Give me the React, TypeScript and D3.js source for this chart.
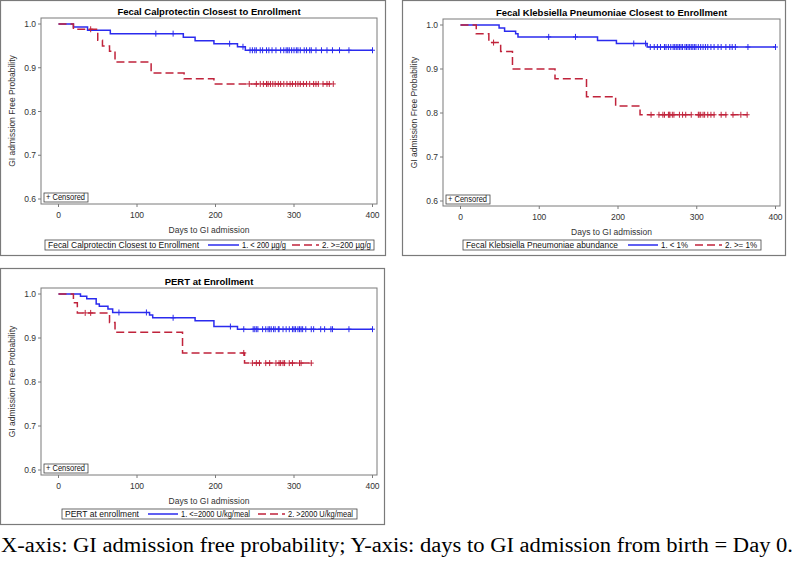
import * as d3 from "d3";

// axis ticks shared by all three panels
const xTicks = [0, 100, 200, 300, 400];
const yTicks = [0.6, 0.7, 0.8, 0.9, 1.0];

// panel 1: fecal calprotectin
const calproTitle = "Fecal Calprotectin Closest to Enrollment";
const calproLegendTitle = "Fecal Calprotectin Closest to Enrollment";
const calproGroups = ["1. < 200 µg/g", "2. >=200 µg/g"];
const calproLowTimes = [19, 37, 66, 159, 174, 198, 228, 238];
const calproLowSurv = [0.993, 0.986, 0.978, 0.97, 0.962, 0.955, 0.948, 0.94];
const calproLowCens = [124, 146, 218, 235, 244, 247, 250, 252, 257, 260, 265, 268, 272, 277, 283, 287, 290, 292, 294, 297, 300, 303, 305, 308, 313, 316, 320, 322, 328, 335, 342, 349, 358, 370, 400];
const calproHighTimes = [19, 50, 56, 65, 72, 118, 160, 198];
const calproHighSurv = [0.988, 0.963, 0.95, 0.938, 0.913, 0.888, 0.875, 0.863];
const calproHighCens = [41, 243, 252, 257, 261, 265, 267, 270, 273, 276, 280, 283, 287, 291, 295, 298, 302, 305, 308, 312, 316, 320, 325, 328, 331, 337, 342, 345, 350];

// panel 2: klebsiella pneumoniae
const klebTitle = "Fecal Klebsiella Pneumoniae Closest to Enrollment";
const klebLegendTitle = "Fecal Klebsiella Pneumoniae abundance";
const klebGroups = ["1. <  1%", "2. >= 1%"];
const klebLowTimes = [49, 56, 70, 73, 174, 198, 237];
const klebLowSurv = [0.993, 0.986, 0.98, 0.973, 0.965, 0.958, 0.95];
const klebLowCens = [112, 146, 220, 235, 241, 246, 250, 254, 259, 261, 264, 267, 270, 272, 274, 276, 278, 280, 282, 285, 287, 289, 291, 293, 295, 297, 299, 302, 305, 308, 311, 314, 318, 322, 327, 331, 337, 342, 345, 349, 365, 400];
const klebHighTimes = [20, 36, 51, 66, 120, 160, 197, 228];
const klebHighSurv = [0.98, 0.96, 0.94, 0.9, 0.878, 0.837, 0.816, 0.796];
const klebHighCens = [42, 242, 252, 257, 259, 264, 265, 266, 269, 271, 278, 282, 286, 293, 302, 303, 305, 308, 310, 314, 318, 322, 331, 337, 346, 356, 364];

// panel 3: PERT
const pertTitle = "PERT at Enrollment";
const pertLegendTitle = "PERT at enrollment";
const pertGroups = ["1. <=2000 U/kg/meal", "2. >2000 U/kg/meal"];
const pertLowTimes = [28, 36, 48, 52, 63, 69, 116, 120, 174, 198, 228];
const pertLowSurv = [0.995, 0.989, 0.977, 0.972, 0.966, 0.958, 0.952, 0.946, 0.939, 0.926, 0.92];
const pertLowCens = [77, 112, 146, 219, 236, 248, 250, 252, 254, 260, 264, 267, 269, 271, 274, 276, 280, 281, 286, 290, 294, 298, 300, 302, 305, 307, 309, 311, 315, 322, 325, 334, 339, 347, 349, 370, 400];
const pertHighTimes = [19, 24, 65, 72, 158, 237];
const pertHighSurv = [0.98, 0.957, 0.935, 0.913, 0.866, 0.843];
const pertHighCens = [34, 41, 236, 247, 252, 256, 264, 269, 277, 281, 283, 286, 288, 294, 298, 307, 309, 322];

const caption = "X-axis: GI admission free probability; Y-axis: days to GI admission from birth = Day 0.";

const BLUE = "#2b2bee";
const RED = "#c0233b";
const FRAME = "#7a7a7a";
const SANS = "'Liberation Sans', Arial, sans-serif";

type Curve = { times: number[]; surv: number[]; cens: number[] };

function survAt(c: Curve, t: number) {
  let s = 1;
  c.times.forEach((ti, i) => {
    if (ti <= t) s = c.surv[i];
  });
  return s;
}

function KmPanel({ layout, title, legendTitle, groups, curves }: any) {
  const { outer, frame, lg } = layout;
  const x = d3.scaleLinear().domain([0, 400]).range([frame.x0 + 17.5, frame.x1 - 4.5]);
  const y = d3.scaleLinear().domain([0.6, 1.0]).range([frame.y1 - 5, frame.y0 + 6]);
  const line = d3
    .line<[number, number]>()
    .x((d) => x(d[0]))
    .y((d) => y(d[1]))
    .curve(d3.curveStepAfter);
  const cx = (frame.x0 + frame.x1) / 2;
  const cy = (frame.y0 + frame.y1) / 2;
  const colors = [BLUE, RED];
  const dashes = [undefined, "8,4"];

  return (
    <g fontFamily={SANS}>
      <rect x={outer.x} y={outer.y} width={outer.w} height={outer.h} fill="white" stroke={FRAME} strokeWidth={1.2} />
      <text x={cx} y={frame.y0 - 3} textAnchor="middle" fontSize={9.5} fontWeight="bold" fill="#000">
        {title}
      </text>
      <rect x={frame.x0} y={frame.y0} width={frame.x1 - frame.x0} height={frame.y1 - frame.y0} fill="none" stroke={FRAME} strokeWidth={1} />
      {yTicks.map((t) => (
        <g key={"y" + t}>
          <line x1={frame.x0 - 3} x2={frame.x0} y1={y(t)} y2={y(t)} stroke={FRAME} />
          <text x={frame.x0 - 5} y={y(t) + 3} textAnchor="end" fontSize={8.5} fill="#333">
            {d3.format(".1f")(t)}
          </text>
        </g>
      ))}
      {xTicks.map((t) => (
        <g key={"x" + t}>
          <line x1={x(t)} x2={x(t)} y1={frame.y1} y2={frame.y1 + 3} stroke={FRAME} />
          <text x={x(t)} y={frame.y1 + 14} textAnchor="middle" fontSize={8.5} fill="#333">
            {t}
          </text>
        </g>
      ))}
      <text x={cx} y={frame.y1 + 28.5} textAnchor="middle" fontSize={8.5} fill="#333">
        Days to GI admission
      </text>
      <text transform={`translate(${outer.x + 14},${cy}) rotate(-90)`} textAnchor="middle" fontSize={8.5} fill="#333">
        GI admission Free Probability
      </text>
      {curves.map((c: Curve, i: number) => {
        const end = Math.max(c.times[c.times.length - 1], ...c.cens);
        const pts: [number, number][] = [[0, 1], ...c.times.map((t, j) => [t, c.surv[j]] as [number, number]), [end, c.surv[c.surv.length - 1]]];
        return (
          <g key={"c" + i}>
            <path d={line(pts) || ""} fill="none" stroke={colors[i]} strokeWidth={1.5} strokeDasharray={dashes[i]} />
            {c.cens.map((t, j) => {
              const px = x(t);
              const py = y(survAt(c, t));
              return <path key={j} d={`M${px},${py - 3}V${py + 3}M${px - 2.5},${py}H${px + 2.5}`} stroke={colors[i]} strokeWidth={1} />;
            })}
          </g>
        );
      })}
      <rect x={frame.x0 + 3} y={frame.y1 - 11} width={44} height={9} fill="white" stroke="#444" strokeWidth={0.8} />
      <text x={frame.x0 + 5} y={frame.y1 - 3.6} fontSize={8.2} fill="#111" textLength={39} lengthAdjust="spacingAndGlyphs">
        + Censored
      </text>
      <rect x={lg.x0} y={lg.y} width={lg.x1 - lg.x0} height={10} fill="white" stroke="#444" strokeWidth={0.8} />
      <text x={lg.x0 + 3} y={lg.y + 8} fontSize={8.2} fill="#111" textLength={lg.titleW} lengthAdjust="spacingAndGlyphs">
        {legendTitle}
      </text>
      {groups.map((g: string, i: number) => (
        <g key={"l" + i}>
          <line x1={lg.items[i][0]} x2={lg.items[i][1]} y1={lg.y + 5} y2={lg.y + 5} stroke={colors[i]} strokeWidth={1.5} strokeDasharray={dashes[i]} />
          <text x={lg.items[i][1] + 3} y={lg.y + 8} fontSize={8.2} fill="#111" textLength={lg.items[i][2]} lengthAdjust="spacingAndGlyphs">
            {g}
          </text>
        </g>
      ))}
    </g>
  );
}

const layouts = [
  {
    outer: { x: 0.5, y: 0.5, w: 385, h: 255 },
    frame: { x0: 41, y0: 18, x1: 377, y1: 204 },
    lg: { x0: 45, x1: 374, y: 240, titleW: 151, items: [[208, 239, 44], [292, 319, 49]] },
  },
  {
    outer: { x: 402.5, y: 0.5, w: 383, h: 255 },
    frame: { x0: 443, y0: 19, x1: 780, y1: 206 },
    lg: { x0: 463, x1: 761, y: 240, titleW: 152, items: [[628, 658, 27], [695, 722, 32]] },
  },
  {
    outer: { x: 0.5, y: 268.5, w: 384, h: 256 },
    frame: { x0: 41, y0: 288, x1: 377, y1: 475 },
    lg: { x0: 62, x1: 357, y: 509, titleW: 74, items: [[148, 178, 69], [258, 285, 65]] },
  },
];

export default function App() {
  const panels = [
    {
      title: calproTitle,
      legendTitle: calproLegendTitle,
      groups: calproGroups,
      curves: [
        { times: calproLowTimes, surv: calproLowSurv, cens: calproLowCens },
        { times: calproHighTimes, surv: calproHighSurv, cens: calproHighCens },
      ],
    },
    {
      title: klebTitle,
      legendTitle: klebLegendTitle,
      groups: klebGroups,
      curves: [
        { times: klebLowTimes, surv: klebLowSurv, cens: klebLowCens },
        { times: klebHighTimes, surv: klebHighSurv, cens: klebHighCens },
      ],
    },
    {
      title: pertTitle,
      legendTitle: pertLegendTitle,
      groups: pertGroups,
      curves: [
        { times: pertLowTimes, surv: pertLowSurv, cens: pertLowCens },
        { times: pertHighTimes, surv: pertHighSurv, cens: pertHighCens },
      ],
    },
  ];

  return (
    <svg width={800} height={565} style={{ position: "absolute", left: 0, top: 0, background: "white" }}>
      <rect width={800} height={565} fill="white" />
      {panels.map((p, i) => (
        <KmPanel key={i} layout={layouts[i]} {...p} />
      ))}
      <text x={1} y={552} fontSize={20} fontFamily="'Liberation Serif', 'Times New Roman', serif" textLength={792} lengthAdjust="spacingAndGlyphs" fill="#000">
        {caption}
      </text>
    </svg>
  );
}
